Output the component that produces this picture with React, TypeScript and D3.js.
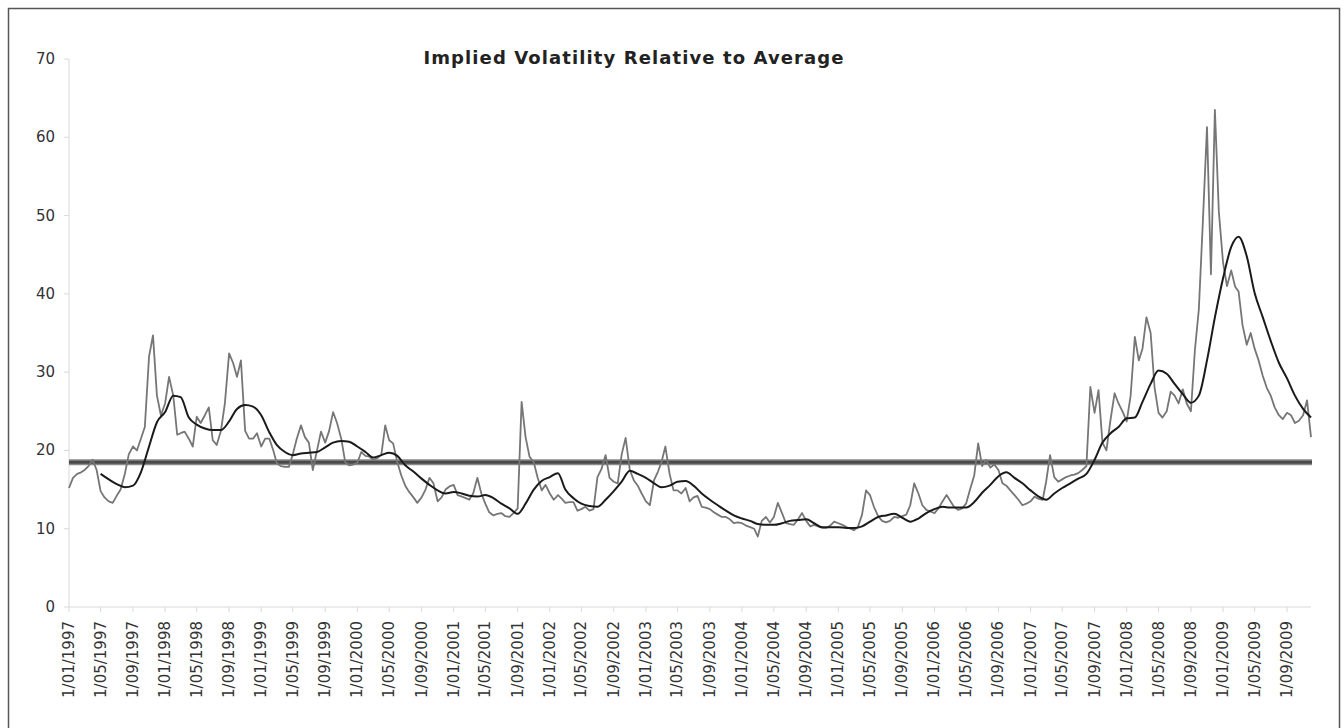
import React from 'react'
import * as d3 from 'd3'

// implied volatility, read twice a month (1st and 16th)
const vol1997 = [15.2, 16.5, 17, 17.2, 17.5, 18, 18.8, 17.5, 14.8, 14, 13.5, 13.3, 14.2, 15, 17, 19.5, 20.5, 20, 21.5, 23, 32, 34.7, 27, 24.5]
const vol1998 = [26, 29.4, 27, 22, 22.2, 22.4, 21.5, 20.5, 24.3, 23.5, 24.5, 25.5, 21.3, 20.7, 22.5, 26, 32.4, 31.2, 29.4, 31.5, 22.5, 21.5, 21.5, 22.2]
const vol1999 = [20.5, 21.5, 21.5, 20, 18.4, 18, 17.9, 17.9, 19.5, 21.5, 23.2, 21.7, 21, 17.5, 20, 22.4, 21, 22.5, 24.9, 23.5, 21.5, 18.5, 18.1, 18.2]
const vol2000 = [18.4, 19.8, 19.3, 19.2, 18.8, 19, 19.4, 23.2, 21.3, 20.9, 18.5, 16.8, 15.5, 14.7, 14, 13.3, 14, 15, 16.5, 15.8, 13.5, 14, 15, 15.4]
const vol2001 = [15.6, 14.3, 14.1, 13.9, 13.7, 14.5, 16.5, 14.5, 13.2, 12.1, 11.7, 11.9, 12, 11.6, 11.5, 12, 12.6, 26.2, 21.7, 19.2, 18.5, 16.5, 14.9, 15.6]
const vol2002 = [14.5, 13.7, 14.3, 13.8, 13.3, 13.4, 13.4, 12.3, 12.5, 12.8, 12.3, 12.5, 16.6, 17.6, 19.4, 16.5, 16, 15.8, 19.5, 21.6, 17.5, 16.2, 15.5, 14.5]
const vol2003 = [13.5, 13, 16.2, 17.3, 18.5, 20.5, 17, 14.9, 14.9, 14.5, 15.2, 13.5, 14, 14.2, 12.8, 12.7, 12.5, 12.1, 11.8, 11.5, 11.5, 11.2, 10.7, 10.8]
const vol2004 = [10.7, 10.4, 10.2, 10, 9, 11, 11.5, 10.8, 11.5, 13.3, 12, 10.7, 10.6, 10.5, 11.2, 12, 11, 10.3, 10.5, 10.3, 10.1, 10.1, 10.4, 10.9]
const vol2005 = [10.7, 10.5, 10.2, 10, 9.8, 10.2, 11.8, 14.9, 14.3, 12.8, 11.6, 11, 10.8, 11, 11.5, 11.4, 11.6, 11.8, 13, 15.8, 14.5, 13, 12.4, 12.2]
const vol2006 = [12, 12.6, 13.5, 14.3, 13.6, 12.8, 12.4, 12.6, 13.2, 15, 16.8, 20.9, 18, 18.8, 17.8, 18.2, 17.5, 15.8, 15.5, 14.9, 14.3, 13.7, 13, 13.2]
const vol2007 = [13.5, 14.1, 13.8, 13.7, 16, 19.4, 16.6, 16, 16.3, 16.6, 16.8, 16.9, 17.1, 17.5, 18, 28.1, 24.8, 27.7, 21, 20, 24, 27.3, 26, 25]
const vol2008 = [23.7, 27, 34.5, 31.5, 33, 37, 35, 28, 24.8, 24.2, 25, 27.5, 27, 26, 27.8, 26, 25, 32.8, 38, 49, 61.3, 42.5, 63.5, 50.5]
const vol2009 = [44, 41, 43, 40.9, 40.3, 36, 33.5, 35, 33, 31.5, 29.5, 28, 27, 25.5, 24.5, 24, 24.8, 24.5, 23.5, 23.8, 24.5, 26.4, 21.7]

// moving average, read on the 1st of each month (1997 starts in May)
const avg1997 = [17, 16.3, 15.7, 15.3, 15.5, 17.2, 20.5, 23.6]
const avg1998 = [24.9, 27, 26.8, 24.2, 23.3, 22.8, 22.6, 22.6, 23.7, 25.3, 25.8, 25.6]
const avg1999 = [24.5, 22.3, 20.7, 19.8, 19.4, 19.6, 19.7, 19.8, 20.4, 21, 21.2, 21.1]
const avg2000 = [20.5, 19.8, 19.1, 19.4, 19.7, 19.3, 18.1, 17.3, 16.4, 15.6, 14.9, 14.5]
const avg2001 = [14.7, 14.5, 14.2, 14.1, 14.3, 13.9, 13.2, 12.6, 11.9, 13.2, 15, 16.1]
const avg2002 = [16.6, 17.1, 15, 13.9, 13.2, 12.9, 12.8, 13.7, 14.8, 16, 17.4, 17]
const avg2003 = [16.5, 15.8, 15.3, 15.5, 16, 16.1, 15.5, 14.5, 13.7, 13, 12.3, 11.7]
const avg2004 = [11.3, 11, 10.6, 10.5, 10.5, 10.7, 11, 11.1, 11.2, 10.7, 10.2, 10.2]
const avg2005 = [10.2, 10.1, 10.1, 10.3, 10.9, 11.5, 11.7, 11.9, 11.4, 10.9, 11.3, 12]
const avg2006 = [12.5, 12.8, 12.7, 12.7, 12.7, 13.4, 14.6, 15.6, 16.7, 17.2, 16.5, 15.8]
const avg2007 = [14.9, 14.1, 13.7, 14.5, 15.2, 15.8, 16.4, 17, 18.8, 21, 22.2, 23]
const avg2008 = [24.1, 24.2, 26.2, 28.5, 30.2, 29.8, 28.5, 27.2, 26.1, 27, 31.5, 37]
const avg2009 = [42, 46, 47.3, 44.8, 40.1, 37, 34, 31.2, 29.2, 27, 25.3, 24.2]

const longRunAverage = 18.5
const yTicks = [0, 10, 20, 30, 40, 50, 60, 70]
const title = 'Implied Volatility Relative to Average'

const volYears = [vol1997, vol1998, vol1999, vol2000, vol2001, vol2002, vol2003, vol2004, vol2005, vol2006, vol2007, vol2008, vol2009]
const avgYears = [avg1997, avg1998, avg1999, avg2000, avg2001, avg2002, avg2003, avg2004, avg2005, avg2006, avg2007, avg2008, avg2009]

type Pt = { date: Date; value: number }

const volData: Pt[] = volYears.flatMap((vals, yi) =>
	vals.map((v, i) => ({ date: new Date(1997 + yi, Math.floor(i / 2), i % 2 ? 16 : 1), value: v }))
)
const avgData: Pt[] = avgYears.flatMap((vals, yi) => {
	const start = 12 - vals.length
	return vals.map((v, i) => ({ date: new Date(1997 + yi, start + i, 1), value: v }))
})

const W = 1344
const H = 728
const left = 69
const right = 1311
const top = 59
const bottom = 607
const font = '"DejaVu Sans", "Liberation Sans", sans-serif'

export default function App() {
	const x = d3.scaleTime()
		.domain([new Date(1997, 0, 1), new Date(2009, 11, 1)])
		.range([left, right])
	const y = d3.scaleLinear()
		.domain([0, 70])
		.range([bottom, top])

	const volLine = d3.line<Pt>()
		.x(d => x(d.date))
		.y(d => y(d.value))
	const avgLine = d3.line<Pt>()
		.x(d => x(d.date))
		.y(d => y(d.value))
		.curve(d3.curveMonotoneX)

	const xTicks = x.ticks(d3.timeMonth.every(4)!)
	const fmt = d3.timeFormat('%-d/%m/%Y')

	return (
		<svg width={W} height={H} style={{ position: 'absolute', left: 0, top: 0, background: '#fff' }}>
			<rect x={8.5} y={8.5} width={1331} height={740} fill="#fff" stroke="#555" strokeWidth={1.5} />

			<text x={634} y={64} textAnchor="middle" fontFamily={font} fontWeight="bold" fontSize={18} letterSpacing={1.1} fill="#222">
				{title}
			</text>

			{/* y axis */}
			<line x1={left} x2={left} y1={top} y2={bottom} stroke="#d9d9d9" />
			{yTicks.map(t => (
				<g key={`y-${t}`}>
					<line x1={left - 5} x2={left} y1={y(t)} y2={y(t)} stroke="#d9d9d9" />
					<text x={55} y={y(t) + 5} textAnchor="end" fontFamily={font} fontSize={15} fill="#333">
						{t}
					</text>
				</g>
			))}

			{/* x axis */}
			<line x1={left} x2={right} y1={bottom} y2={bottom} stroke="#d9d9d9" />
			{xTicks.map((t, i) => (
				<g key={`x-${i}`}>
					<line x1={x(t)} x2={x(t)} y1={bottom} y2={bottom + 5} stroke="#d9d9d9" />
					<text
						transform={`translate(${x(t) + 5},${621}) rotate(-90)`}
						textAnchor="end"
						fontFamily={font}
						fontSize={15}
						fill="#333"
					>
						{fmt(t)}
					</text>
				</g>
			))}

			{/* long run average */}
			<line x1={left} x2={right + 1} y1={y(longRunAverage)} y2={y(longRunAverage)} stroke="#8a8a8a" strokeWidth={6} />
			<line x1={left} x2={right + 1} y1={y(longRunAverage)} y2={y(longRunAverage)} stroke="#4a4a4a" strokeWidth={3} />

			<path d={volLine(volData) || ''} fill="none" stroke="#767676" strokeWidth={1.8} strokeLinejoin="round" />
			<path d={avgLine(avgData) || ''} fill="none" stroke="#1a1a1a" strokeWidth={2} strokeLinejoin="round" />
		</svg>
	)
}
